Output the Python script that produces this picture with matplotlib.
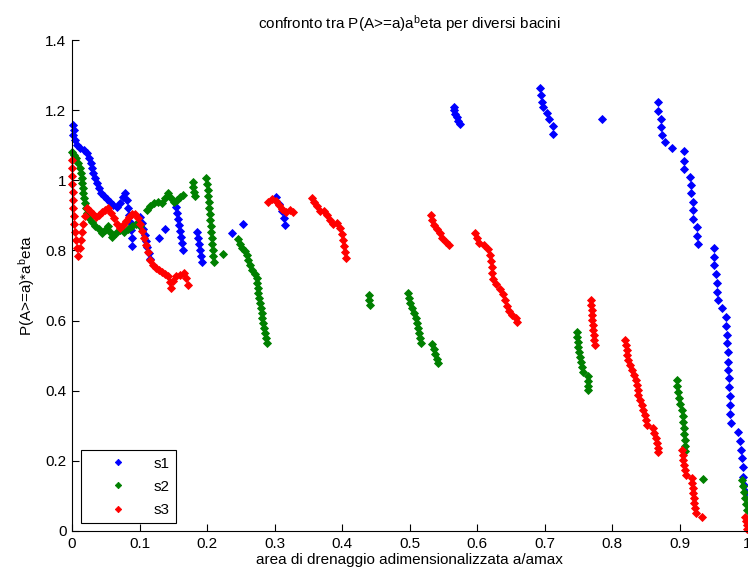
import matplotlib.pyplot as plt
from matplotlib.ticker import FixedLocator

plt.rcParams['font.family'] = ['Liberation Sans', 'DejaVu Sans']
plt.rcParams['mathtext.fontset'] = 'custom'
plt.rcParams['mathtext.rm'] = 'Liberation Sans'
plt.rcParams['mathtext.it'] = 'Liberation Sans'

# s1 (blu)
s1_x = [0.0015, 0.003, 0.0015, 0.004, 0.007, 0.012, 0.018, 0.022, 0.025, 0.028,
        0.030, 0.031, 0.034, 0.037, 0.040, 0.043, 0.047, 0.052, 0.056, 0.061,
        0.067, 0.071, 0.076, 0.079, 0.081, 0.083, 0.084, 0.086, 0.087, 0.089, 0.089,
        0.101, 0.104, 0.105, 0.108, 0.110, 0.111, 0.114, 0.116,
        0.129, 0.138,
        0.154, 0.156, 0.157, 0.159, 0.160, 0.161, 0.163, 0.164,
        0.185, 0.187, 0.188, 0.190, 0.191, 0.193,
        0.237, 0.253,
        0.302, 0.307, 0.311, 0.314, 0.316,
        0.566, 0.566, 0.567, 0.570, 0.572, 0.575,
        0.693, 0.695, 0.696, 0.698, 0.704, 0.707, 0.713, 0.713,
        0.785,
        0.868, 0.868, 0.873, 0.873, 0.874, 0.879, 0.889, 0.907, 0.907, 0.907,
        0.916, 0.917, 0.917, 0.920, 0.920, 0.920, 0.926, 0.926, 0.927,
        0.951, 0.951, 0.951, 0.954, 0.956, 0.956, 0.957, 0.963, 0.969, 0.969,
        0.970, 0.970, 0.972, 0.972, 0.972, 0.973, 0.973, 0.975, 0.975, 0.975,
        0.976, 0.987, 0.990, 0.991, 0.993, 0.994, 0.994, 0.996, 0.998]
s1_y = [1.157, 1.142, 1.128, 1.114, 1.100, 1.091, 1.085, 1.077, 1.063, 1.048,
        1.034, 1.020, 1.006, 0.991, 0.977, 0.963, 0.954, 0.946, 0.937, 0.929,
        0.923, 0.934, 0.951, 0.963, 0.943, 0.920, 0.900, 0.880, 0.858, 0.835, 0.812,
        0.895, 0.877, 0.860, 0.843, 0.826, 0.809, 0.792, 0.775,
        0.835, 0.860,
        0.923, 0.906, 0.889, 0.872, 0.855, 0.838, 0.821, 0.801,
        0.852, 0.835, 0.818, 0.801, 0.783, 0.766,
        0.849, 0.875,
        0.952, 0.932, 0.912, 0.892, 0.872,
        1.210, 1.200, 1.190, 1.180, 1.170, 1.160,
        1.262, 1.242, 1.222, 1.208, 1.191, 1.174, 1.154, 1.131,
        1.174,
        1.222, 1.197, 1.174, 1.151, 1.128, 1.108, 1.091, 1.083, 1.054, 1.031,
        1.009, 0.986, 0.963, 0.937, 0.915, 0.889, 0.866, 0.840, 0.818,
        0.806, 0.781, 0.758, 0.732, 0.707, 0.681, 0.658, 0.635, 0.610, 0.584,
        0.558, 0.536, 0.510, 0.481, 0.459, 0.436, 0.410, 0.385, 0.359, 0.333,
        0.308, 0.282, 0.256, 0.231, 0.208, 0.182, 0.154, 0.131, 0.110]

# s2 (verde)
s2_x = [0.000, 0.003, 0.006, 0.009, 0.012, 0.013, 0.015, 0.015, 0.016, 0.016,
        0.018, 0.019, 0.021, 0.022, 0.025, 0.030, 0.034, 0.040, 0.044, 0.049,
        0.053, 0.056, 0.059, 0.065, 0.071, 0.077, 0.083, 0.089, 0.095, 0.101,
        0.111, 0.116, 0.121, 0.127, 0.133, 0.138, 0.142, 0.147, 0.151, 0.156,
        0.160, 0.164,
        0.179, 0.179, 0.181, 0.182,
        0.199, 0.200, 0.201, 0.201, 0.203, 0.203, 0.204, 0.204, 0.206, 0.206,
        0.207, 0.207, 0.209, 0.209, 0.210,
        0.224,
        0.246, 0.249, 0.252, 0.256, 0.259, 0.261, 0.264, 0.267, 0.271, 0.274,
        0.274, 0.276, 0.276, 0.277, 0.279, 0.280, 0.281, 0.281, 0.283, 0.284,
        0.286, 0.287, 0.289,
        0.440, 0.440, 0.441,
        0.498, 0.499, 0.501, 0.504, 0.507, 0.510, 0.511, 0.513, 0.514, 0.516, 0.517,
        0.533, 0.536, 0.538, 0.541, 0.542,
        0.748, 0.748, 0.750, 0.750, 0.751, 0.753, 0.754, 0.756, 0.757,
        0.764, 0.764, 0.764, 0.764,
        0.896, 0.896, 0.898, 0.899, 0.901, 0.904, 0.905, 0.905, 0.907, 0.907,
        0.908, 0.908, 0.908,
        0.935,
        0.993, 0.994, 0.996, 0.997, 0.999, 1.000]
s2_y = [1.080, 1.071, 1.063, 1.048, 1.034, 1.020, 1.006, 0.991, 0.977, 0.963,
        0.949, 0.934, 0.920, 0.906, 0.892, 0.880, 0.869, 0.860, 0.849, 0.858,
        0.869, 0.852, 0.838, 0.849, 0.858, 0.852, 0.860, 0.869, 0.875, 0.869,
        0.915, 0.926, 0.934, 0.937, 0.934, 0.949, 0.963, 0.949, 0.937, 0.943,
        0.952, 0.957,
        0.994, 0.980, 0.966, 0.954,
        1.006, 0.989, 0.972, 0.954, 0.937, 0.920, 0.903, 0.886, 0.869, 0.852,
        0.835, 0.818, 0.801, 0.783, 0.766,
        0.789,
        0.832, 0.818, 0.806, 0.798, 0.786, 0.772, 0.758, 0.744, 0.732, 0.721,
        0.707, 0.692, 0.678, 0.664, 0.650, 0.635, 0.621, 0.607, 0.593, 0.578,
        0.564, 0.550, 0.536,
        0.672, 0.658, 0.644,
        0.678, 0.664, 0.650, 0.635, 0.621, 0.607, 0.593, 0.578, 0.564, 0.550, 0.536,
        0.533, 0.519, 0.504, 0.490, 0.479,
        0.567, 0.553, 0.538, 0.524, 0.510, 0.496, 0.481, 0.467, 0.453,
        0.442, 0.427, 0.413, 0.402,
        0.430, 0.413, 0.396, 0.379, 0.362, 0.345, 0.328, 0.311, 0.293, 0.276,
        0.259, 0.242, 0.228,
        0.148,
        0.145, 0.128, 0.111, 0.094, 0.077, 0.060]

# s3 (rosso)
s3_x = [0.000, 0.000, 0.000, 0.000, 0.0015, 0.0015, 0.0015, 0.003, 0.003, 0.004,
        0.006, 0.007, 0.009, 0.012, 0.013, 0.015, 0.016, 0.019, 0.022, 0.027,
        0.031, 0.036, 0.040, 0.044, 0.049, 0.053, 0.058, 0.062, 0.067, 0.071,
        0.076, 0.080, 0.084, 0.089, 0.093, 0.098, 0.101, 0.104, 0.107, 0.110,
        0.113, 0.116, 0.120, 0.124, 0.129, 0.133, 0.138, 0.142, 0.145, 0.147,
        0.150, 0.154, 0.160, 0.166, 0.169, 0.172,
        0.290, 0.296, 0.302, 0.307, 0.311, 0.317, 0.323, 0.327,
        0.356, 0.359, 0.363, 0.367, 0.373, 0.378, 0.382, 0.387, 0.393, 0.397,
        0.400, 0.401, 0.403, 0.404, 0.406,
        0.532, 0.533, 0.536, 0.541, 0.545, 0.548, 0.554, 0.559,
        0.597, 0.600, 0.603, 0.610, 0.616, 0.619, 0.621, 0.622, 0.622, 0.624,
        0.628, 0.634, 0.639, 0.641, 0.644, 0.647, 0.652, 0.658, 0.659,
        0.769, 0.769, 0.770, 0.770, 0.770, 0.772, 0.772, 0.773, 0.773, 0.775,
        0.819, 0.821, 0.822, 0.822, 0.824, 0.827, 0.830, 0.833, 0.836, 0.837,
        0.839, 0.839, 0.841, 0.844, 0.846, 0.849, 0.850, 0.852,
        0.861, 0.862, 0.865, 0.867, 0.868, 0.868,
        0.904, 0.905, 0.905, 0.907, 0.908, 0.910,
        0.919, 0.919, 0.920, 0.920, 0.921, 0.921, 0.923, 0.924, 0.933,
        0.997, 0.999, 1.000, 1.000]
s3_y = [1.057, 1.034, 1.011, 0.989, 0.966, 0.943, 0.920, 0.897, 0.875, 0.852,
        0.829, 0.806, 0.783, 0.806, 0.829, 0.852, 0.875, 0.897, 0.920, 0.912,
        0.903, 0.895, 0.900, 0.909, 0.915, 0.920, 0.906, 0.892, 0.875, 0.863,
        0.872, 0.883, 0.895, 0.903, 0.903, 0.892, 0.875, 0.855, 0.835, 0.815,
        0.795, 0.772, 0.758, 0.749, 0.744, 0.738, 0.732, 0.726, 0.709, 0.692,
        0.712, 0.726, 0.729, 0.735, 0.721, 0.701,
        0.937, 0.946, 0.940, 0.929, 0.917, 0.909, 0.915, 0.909,
        0.949, 0.937, 0.926, 0.912, 0.912, 0.900, 0.886, 0.875, 0.877, 0.863,
        0.846, 0.829, 0.812, 0.795, 0.778,
        0.900, 0.886, 0.872, 0.860, 0.849, 0.835, 0.823, 0.815,
        0.849, 0.835, 0.821, 0.815, 0.803, 0.786, 0.769, 0.752, 0.735, 0.718,
        0.704, 0.689, 0.675, 0.658, 0.641, 0.627, 0.615, 0.607, 0.595,
        0.658, 0.644, 0.630, 0.615, 0.601, 0.587, 0.573, 0.558, 0.544, 0.530,
        0.544, 0.530, 0.516, 0.501, 0.487, 0.473, 0.459, 0.444, 0.430, 0.416,
        0.402, 0.387, 0.373, 0.359, 0.345, 0.330, 0.316, 0.302,
        0.293, 0.279, 0.265, 0.251, 0.236, 0.225,
        0.231, 0.217, 0.202, 0.188, 0.174, 0.160,
        0.151, 0.137, 0.123, 0.108, 0.094, 0.080, 0.066, 0.051, 0.040,
        0.040, 0.028, 0.017, 0.006]

x_ticks = [0, 0.1, 0.2, 0.3, 0.4, 0.5, 0.6, 0.7, 0.8, 0.9, 1]
x_ticklabels = ['0', '0.1', '0.2', '0.3', '0.4', '0.5', '0.6', '0.7', '0.8', '0.9', '1']
y_ticks = [0, 0.2, 0.4, 0.6, 0.8, 1, 1.2, 1.4]
y_ticklabels = ['0', '0.2', '0.4', '0.6', '0.8', '1', '1.2', '1.4']

fig = plt.figure(figsize=(7.48, 5.81), dpi=100)
ax = fig.add_axes([72/748, 50/581, 675/748, 491/581])

ms = 3.6
ax.plot(s1_x, s1_y, 'D', color=(0, 0, 1), ms=ms, mew=0.6, linestyle='none', label='s1', clip_on=False)
ax.plot(s2_x, s2_y, 'D', color=(0, 0.5, 0), ms=ms, mew=0.6, linestyle='none', label='s2', clip_on=False)
ax.plot(s3_x, s3_y, 'D', color=(1, 0, 0), ms=ms, mew=0.6, linestyle='none', label='s3', clip_on=False)

ax.set_xlim(0, 1)
ax.set_ylim(0, 1.4)
ax.xaxis.set_major_locator(FixedLocator(x_ticks))
ax.yaxis.set_major_locator(FixedLocator(y_ticks))
ax.set_xticklabels(x_ticklabels)
ax.set_yticklabels(y_ticklabels)
ax.tick_params(direction='in', length=5, width=0.8, labelsize=11, pad=4)
ax.spines['top'].set_visible(False)
ax.spines['right'].set_visible(False)

ax.set_title(r'confronto tra P(A>=a)a$^{\mathrm{b}}$eta per diversi bacini', fontsize=11, pad=8)
ax.set_xlabel('area di drenaggio adimensionalizzata a/amax', fontsize=11, labelpad=2)
ax.set_ylabel(r'P(A>=a)*a$^{\mathrm{b}}$eta', fontsize=11, labelpad=6)

leg = ax.legend(loc='lower left', bbox_to_anchor=(0.0133, 0.0163), borderaxespad=0,
                fancybox=False, edgecolor='black', framealpha=1, fontsize=11,
                handlelength=4, handletextpad=0.35, labelspacing=0.6, markerscale=0.9)
leg.get_frame().set_linewidth(0.8)

fig.savefig('out.png', dpi=100)
